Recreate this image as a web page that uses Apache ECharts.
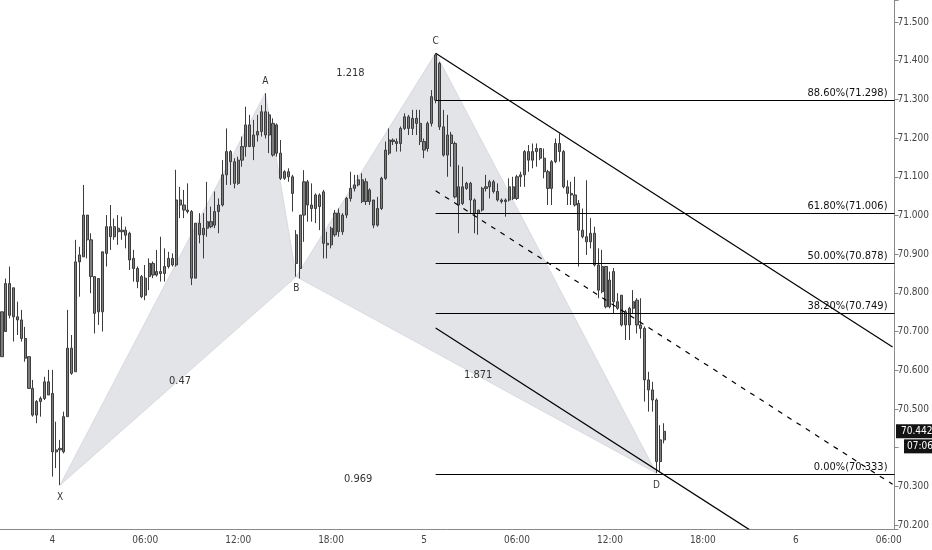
<!DOCTYPE html>
<html>
<head>
<meta charset="UTF-8">
<title>15m chart</title>
<script src="https://cdn.jsdelivr.net/npm/echarts@6/dist/echarts.min.js"></script>
<style>
  html, body { margin: 0; padding: 0; background: #fff; }
  #chart { width: 932px; height: 550px; }
</style>
</head>
<body>
<div id="chart"></div>
<script>
// 15 minute candles, [open, close, low, high], first one = day 3 20:45
var candles = [
  [70.635, 70.751, 70.635, 70.751], [70.700, 70.824, 70.700, 70.837], [70.824, 70.742, 70.734, 70.868],
  [70.813, 70.738, 70.674, 70.813], [70.738, 70.730, 70.691, 70.777], [70.730, 70.682, 70.674, 70.756],
  [70.682, 70.631, 70.622, 70.712], [70.635, 70.553, 70.553, 70.635], [70.553, 70.484, 70.480, 70.575],
  [70.484, 70.519, 70.463, 70.523], [70.519, 70.527, 70.480, 70.532], [70.527, 70.570, 70.523, 70.583],
  [70.570, 70.536, 70.536, 70.601], [70.540, 70.389, 70.325, 70.601], [70.389, 70.394, 70.347, 70.467],
  [70.394, 70.398, 70.303, 70.420], [70.389, 70.480, 70.385, 70.493], [70.480, 70.657, 70.480, 70.756],
  [70.657, 70.592, 70.588, 70.691], [70.596, 70.880, 70.596, 70.937], [70.880, 70.898, 70.790, 70.919],
  [70.893, 71.001, 70.893, 71.079], [71.001, 70.937, 70.889, 71.001], [70.937, 70.842, 70.799, 70.954],
  [70.842, 70.747, 70.695, 70.842], [70.751, 70.837, 70.717, 70.837], [70.751, 70.906, 70.700, 70.906],
  [70.902, 70.971, 70.868, 71.001], [70.971, 70.945, 70.911, 71.027], [70.945, 70.971, 70.937, 70.992],
  [70.967, 70.958, 70.924, 71.001], [70.958, 70.962, 70.937, 70.997], [70.962, 70.949, 70.915, 70.971],
  [70.954, 70.885, 70.859, 70.958], [70.889, 70.863, 70.829, 70.911], [70.863, 70.829, 70.812, 70.868],
  [70.842, 70.790, 70.786, 70.846], [70.794, 70.838, 70.781, 70.872], [70.842, 70.876, 70.807, 70.889],
  [70.876, 70.846, 70.838, 70.881], [70.846, 70.855, 70.842, 70.911], [70.855, 70.850, 70.829, 70.945],
  [70.850, 70.868, 70.829, 70.915], [70.868, 70.889, 70.863, 70.906], [70.889, 70.872, 70.868, 70.902],
  [70.872, 71.040, 70.868, 71.118], [71.040, 71.027, 70.993, 71.074], [71.027, 71.014, 70.993, 71.066],
  [71.014, 71.010, 71.005, 71.083], [71.010, 70.838, 70.820, 71.014], [70.838, 70.980, 70.838, 70.980],
  [70.980, 70.950, 70.928, 71.006], [70.950, 70.967, 70.889, 71.006], [70.967, 70.984, 70.945, 71.087],
  [70.984, 70.971, 70.967, 71.023], [70.975, 71.010, 70.967, 71.062], [71.010, 71.027, 70.954, 71.044],
  [71.027, 71.105, 71.023, 71.143], [71.105, 71.165, 71.079, 71.225], [71.165, 71.139, 71.079, 71.169],
  [71.139, 71.083, 71.070, 71.148], [71.083, 71.143, 71.079, 71.152], [71.143, 71.178, 71.126, 71.204],
  [71.178, 71.234, 71.152, 71.281], [71.234, 71.178, 71.178, 71.260], [71.178, 71.208, 71.143, 71.247],
  [71.208, 71.217, 71.191, 71.260], [71.217, 71.268, 71.204, 71.285], [71.268, 71.208, 71.199, 71.316],
  [71.208, 71.260, 71.161, 71.268], [71.238, 71.156, 71.152, 71.251], [71.234, 71.161, 71.152, 71.238],
  [71.161, 71.096, 71.092, 71.195], [71.096, 71.113, 71.092, 71.117], [71.113, 71.100, 71.087, 71.122],
  [71.100, 71.057, 71.010, 71.105], [70.950, 70.876, 70.842, 70.962], [70.863, 71.001, 70.837, 71.001],
  [71.001, 71.087, 70.932, 71.117], [71.087, 71.027, 70.984, 71.092], [71.027, 71.018, 70.984, 71.083],
  [71.018, 71.053, 70.980, 71.057], [71.053, 71.023, 70.962, 71.057], [71.061, 70.928, 70.889, 71.066],
  [70.928, 70.924, 70.889, 70.958], [70.924, 70.967, 70.915, 70.971], [70.950, 71.006, 70.945, 71.014],
  [71.006, 70.958, 70.945, 71.018], [70.958, 71.001, 70.950, 71.006], [71.001, 71.044, 70.993, 71.048],
  [71.044, 71.070, 71.036, 71.113], [71.070, 71.079, 71.062, 71.105], [71.079, 71.092, 71.075, 71.105],
  [71.092, 71.036, 71.032, 71.109], [71.036, 71.087, 71.027, 71.096], [71.066, 71.036, 71.027, 71.070],
  [71.040, 70.975, 70.967, 71.040], [70.975, 71.018, 70.971, 71.048], [71.018, 71.096, 71.014, 71.100],
  [71.096, 71.169, 71.092, 71.191], [71.161, 71.195, 71.156, 71.225], [71.195, 71.191, 71.182, 71.199],
  [71.191, 71.186, 71.165, 71.199], [71.186, 71.225, 71.165, 71.230], [71.225, 71.255, 71.221, 71.264],
  [71.255, 71.225, 71.208, 71.260], [71.225, 71.251, 71.208, 71.273], [71.251, 71.238, 71.208, 71.273],
  [71.238, 71.191, 71.182, 71.273], [71.191, 71.169, 71.148, 71.199], [71.173, 71.238, 71.165, 71.243],
  [71.238, 71.307, 71.230, 71.324], [71.298, 71.415, 71.290, 71.419], [71.393, 71.229, 71.221, 71.397],
  [71.229, 71.156, 71.152, 71.273], [71.156, 71.208, 71.100, 71.260], [71.208, 71.186, 71.126, 71.216],
  [71.186, 71.048, 71.044, 71.191], [71.027, 71.074, 70.954, 71.130], [71.074, 71.031, 71.027, 71.126],
  [71.070, 71.083, 71.066, 71.087], [71.083, 71.040, 71.005, 71.087], [71.040, 71.005, 70.954, 71.044],
  [71.005, 71.014, 70.950, 71.014], [71.014, 71.070, 71.010, 71.074], [71.070, 71.074, 71.062, 71.105],
  [71.074, 71.087, 71.044, 71.092], [71.087, 71.062, 71.057, 71.092], [71.062, 71.040, 71.036, 71.083],
  [71.040, 71.036, 71.031, 71.044], [71.036, 71.040, 70.997, 71.044], [71.040, 71.074, 71.036, 71.096],
  [71.074, 71.044, 71.040, 71.100], [71.044, 71.100, 71.040, 71.105], [71.100, 71.105, 71.074, 71.113],
  [71.105, 71.165, 71.074, 71.169], [71.165, 71.143, 71.113, 71.182], [71.143, 71.165, 71.122, 71.186],
  [71.165, 71.173, 71.126, 71.186], [71.173, 71.148, 71.143, 71.173], [71.148, 71.113, 71.096, 71.173],
  [71.113, 71.070, 71.027, 71.118], [71.070, 71.139, 71.027, 71.143], [71.139, 71.186, 71.135, 71.199],
  [71.186, 71.165, 71.139, 71.212], [71.165, 71.074, 71.070, 71.169], [71.074, 71.057, 71.027, 71.091],
  [71.057, 71.053, 71.027, 71.087], [71.053, 71.027, 71.023, 71.100], [71.031, 70.962, 70.868, 71.040],
  [70.962, 70.945, 70.941, 71.018], [70.945, 70.932, 70.898, 71.091], [70.932, 70.954, 70.915, 70.993],
  [70.954, 70.872, 70.868, 70.971], [70.872, 70.807, 70.786, 70.915], [70.803, 70.868, 70.799, 70.911],
  [70.868, 70.764, 70.760, 70.868], [70.764, 70.833, 70.760, 70.855], [70.855, 70.777, 70.747, 70.864],
  [70.777, 70.760, 70.756, 70.799], [70.794, 70.717, 70.713, 70.794], [70.717, 70.751, 70.678, 70.756],
  [70.717, 70.760, 70.678, 70.764], [70.760, 70.777, 70.747, 70.807], [70.781, 70.717, 70.695, 70.786],
  [70.717, 70.708, 70.682, 70.786], [70.708, 70.575, 70.519, 70.713], [70.575, 70.549, 70.493, 70.596],
  [70.549, 70.523, 70.493, 70.570], [70.523, 70.364, 70.334, 70.527], [70.364, 70.420, 70.338, 70.458],
  [70.420, 70.442, 70.411, 70.463]
];

// time axis: 15 minute slots, first slot is day 3 20:45
var slotCount = 231;
var firstDay = 3;
var firstMinute = 20 * 60 + 45;

// harmonic pattern, [slot, price]
var patternNames = ['X', 'A', 'B', 'C', 'D'];
var patternPoints = [[15, 70.303], [68, 71.316], [76, 70.842], [112, 71.419], [169, 70.334]];
var patternRatios = ['0.47', '1.218', '1.871', '0.969']; // on XB, AC, BD, XD

// fib retracement drawn from C
var fibNames = ['88.60%', '61.80%', '50.00%', '38.20%', '0.00%'];
var fibLevels = [71.298, 71.006, 70.878, 70.749, 70.333];
var fibStart = 112;

// parallel channel, [slot, price]
var channelUpper = [[112, 71.419], [230, 70.660]];
var channelMiddle = [[112, 71.064], [230, 70.305]];
var channelLower = [[112, 70.709], [193, 70.188]];

var lastPrice = 70.442;
var countdown = '07:06';

var FONT = "'Liberation Sans Narrow', 'DejaVu Sans Condensed', sans-serif";

function pad(n) { return (n < 10 ? '0' : '') + n; }
var slots = [];
for (var i = 0; i < slotCount; i++) {
  var m = firstMinute + i * 15;
  var d = firstDay + Math.floor(m / 1440);
  m = m % 1440;
  slots.push(d + ' ' + pad(Math.floor(m / 60)) + ':' + pad(m % 60));
}
function isMajor(idx, v) {
  var t = v.split(' ')[1];
  return t === '00:00' || t === '06:00' || t === '12:00' || t === '18:00';
}
function slotLabel(v) {
  var parts = v.split(' ');
  return parts[1] === '00:00' ? parts[0] : parts[1];
}

var chart = echarts.init(document.getElementById('chart'));

var option = {
  animation: false,
  backgroundColor: '#ffffff',
  grid: { left: 0, right: 36, top: 0, bottom: 21, containLabel: false },
  xAxis: {
    type: 'category',
    data: slots,
    boundaryGap: true,
    axisLine: { lineStyle: { color: '#8a8a8a' } },
    axisTick: { alignWithLabel: true, interval: isMajor, length: 4, lineStyle: { color: '#8a8a8a' } },
    axisLabel: { interval: isMajor, formatter: slotLabel, color: '#444', fontSize: 10, fontFamily: FONT, margin: 6 },
    splitLine: { show: false }
  },
  yAxis: {
    type: 'value',
    position: 'right',
    min: 70.1896,
    max: 71.5569,
    splitNumber: 13,
    minInterval: 0.1,
    maxInterval: 0.1,
    axisLine: { show: true, lineStyle: { color: '#8a8a8a' } },
    axisTick: { show: true, length: 4, lineStyle: { color: '#8a8a8a' } },
    axisLabel: {
      color: '#444', fontSize: 10, fontFamily: FONT, margin: 3,
      formatter: function (v) {
        // only round levels; the one just under the last price tag is covered
        if (Math.abs(v * 10 - Math.round(v * 10)) > 1e-6) return '';
        if (v < lastPrice && lastPrice - v < 0.06) return '';
        return v.toFixed(3);
      }
    },
    splitLine: { show: false }
  },
  series: [
    {
      // XAB and BCD triangles
      type: 'custom',
      z: 1,
      silent: true,
      data: [[0, 1, 2], [2, 3, 4]],
      renderItem: function (params, api) {
        var pts = [0, 1, 2].map(function (k) {
          return api.coord(patternPoints[api.value(k)]);
        });
        return { type: 'polygon', shape: { points: pts }, style: { fill: '#e3e4e8', stroke: '#d9dadf', lineWidth: 1 } };
      }
    },
    {
      type: 'candlestick',
      z: 2,
      data: candles,
      barWidth: '68%',
      itemStyle: {
        color: '#7d7d7d', color0: '#7d7d7d',
        borderColor: '#3c3c3c', borderColor0: '#3c3c3c', borderWidth: 1
      }
    },
    {
      type: 'line', z: 3, data: channelUpper, symbol: 'none', silent: true,
      lineStyle: { color: '#000', width: 1.2 }
    },
    {
      type: 'line', z: 3, data: channelMiddle, symbol: 'none', silent: true,
      lineStyle: { color: '#000', width: 1.2, type: [5, 6] }
    },
    {
      type: 'line', z: 3, data: channelLower, symbol: 'none', silent: true,
      lineStyle: { color: '#000', width: 1.2 }
    },
    {
      // fib levels with their labels
      type: 'custom',
      z: 4,
      silent: true,
      data: fibLevels.map(function (lv, k) { return [fibStart, lv, k]; }),
      renderItem: function (params, api) {
        var p = api.coord([api.value(0), api.value(1)]);
        var y = Math.round(p[1]) + 0.5;
        var right = params.coordSys.x + params.coordSys.width;
        var k = api.value(2);
        return {
          type: 'group',
          children: [
            { type: 'line', shape: { x1: p[0], y1: y, x2: right, y2: y }, style: { stroke: '#000', lineWidth: 1 } },
            {
              type: 'text',
              style: {
                x: right - 7, y: y - 2,
                text: fibNames[k] + '(' + fibLevels[k].toFixed(3) + ')',
                align: 'right', verticalAlign: 'bottom',
                fill: '#111', font: '11px ' + FONT
              }
            }
          ]
        };
      }
    },
    {
      // pattern point names and ratios
      type: 'custom',
      z: 4,
      silent: true,
      data: [[0]],
      renderItem: function (params, api) {
        var kids = [];
        var up = [false, true, false, true, false];
        patternPoints.forEach(function (pt, k) {
          var c = api.coord(pt);
          kids.push({
            type: 'text',
            style: {
              x: c[0], y: c[1] + (up[k] ? -12 : 12),
              text: patternNames[k], align: 'center', verticalAlign: 'middle',
              fill: '#333', font: '10px ' + FONT
            }
          });
        });
        var pairs = [[0, 2], [1, 3], [2, 4], [0, 4]];
        pairs.forEach(function (pr, k) {
          var a = patternPoints[pr[0]], b = patternPoints[pr[1]];
          var c = api.coord([(a[0] + b[0]) / 2, (a[1] + b[1]) / 2]);
          kids.push({
            type: 'text',
            style: {
              x: c[0], y: c[1],
              text: patternRatios[k], align: 'center', verticalAlign: 'middle',
              fill: '#333', font: '11px ' + FONT
            }
          });
        });
        return { type: 'group', children: kids };
      }
    }
  ]
};

chart.setOption(option);

// last price tag on the price scale
var py = chart.convertToPixel({ yAxisIndex: 0 }, lastPrice);
chart.setOption({
  graphic: [
    { type: 'rect', shape: { x: 896, y: py - 7, width: 36, height: 14 }, style: { fill: '#131313' }, z: 10 },
    { type: 'text', x: 901, y: py, style: { text: lastPrice.toFixed(3), fill: '#fff', font: '10px ' + FONT, verticalAlign: 'middle' }, z: 11 },
    { type: 'rect', shape: { x: 904, y: py + 8, width: 28, height: 14 }, style: { fill: '#131313' }, z: 10 },
    { type: 'text', x: 907, y: py + 15, style: { text: countdown, fill: '#fff', font: '10px ' + FONT, verticalAlign: 'middle' }, z: 11 }
  ]
});
</script>
</body>
</html>
